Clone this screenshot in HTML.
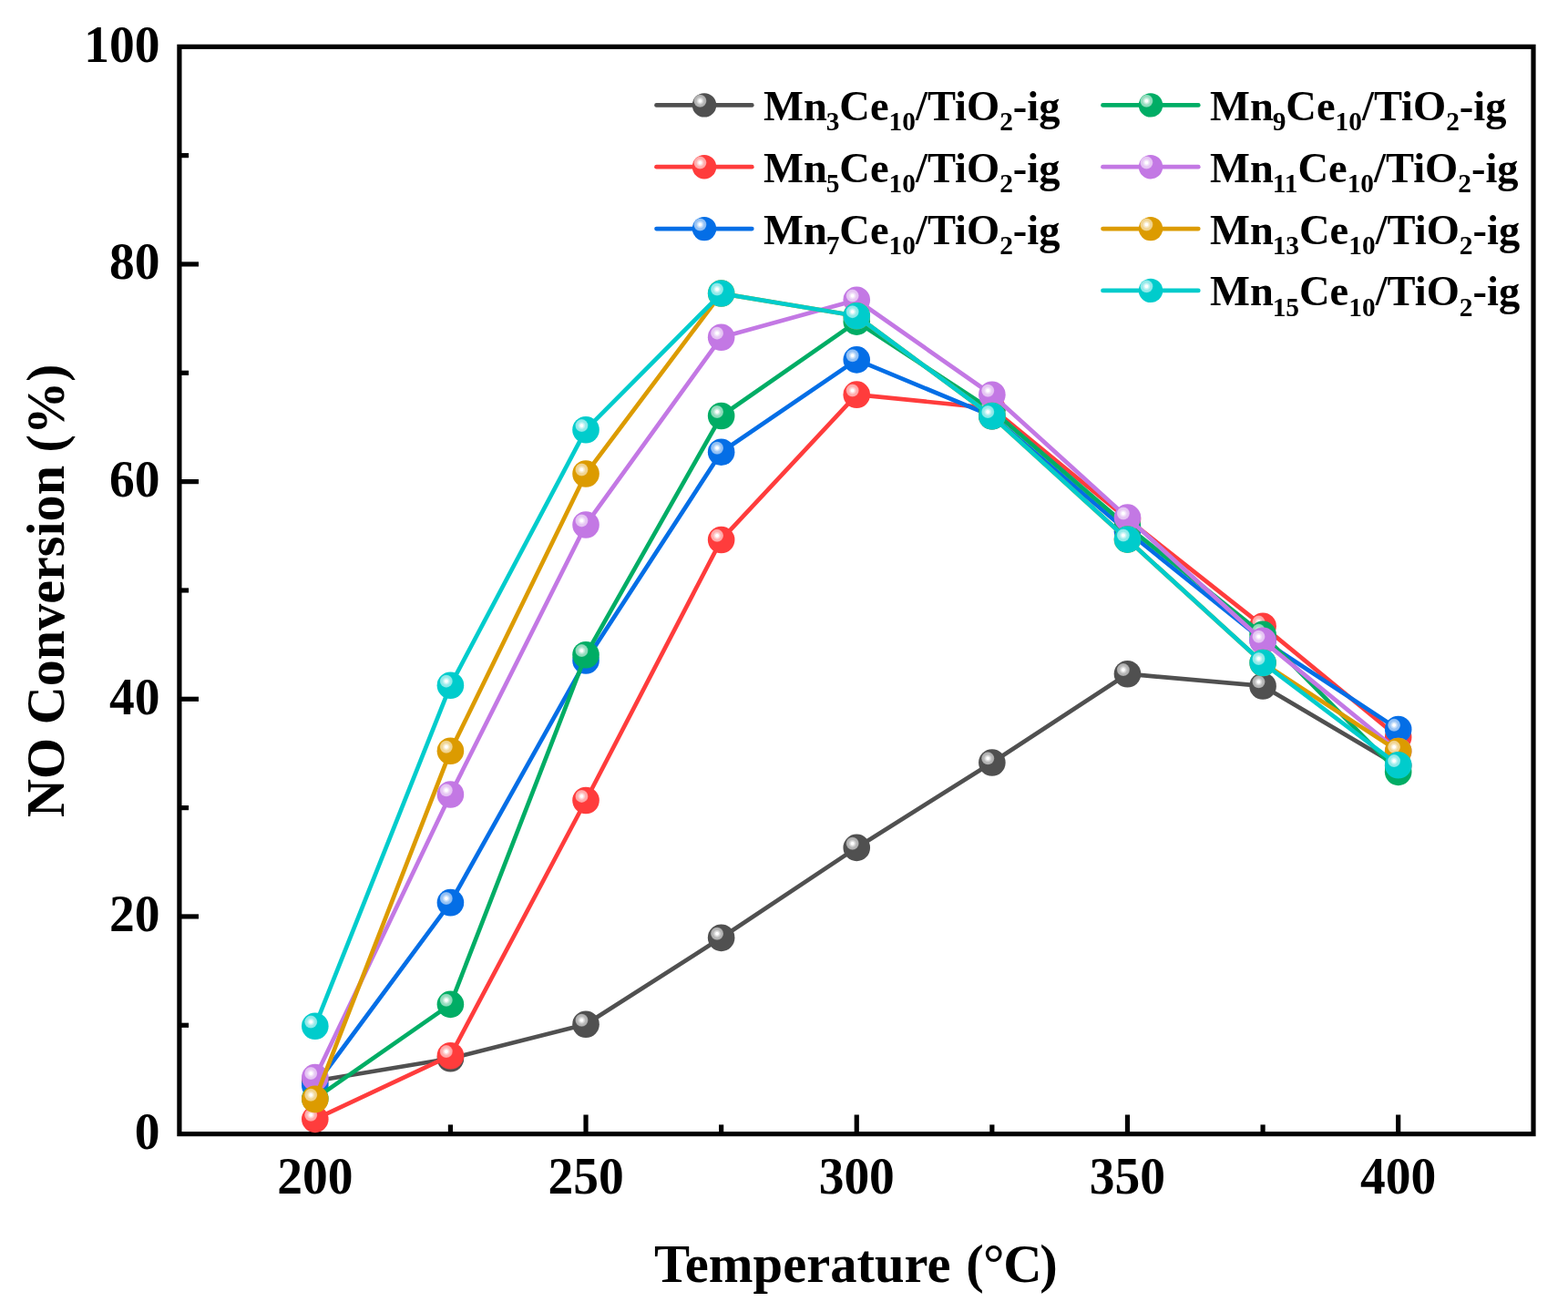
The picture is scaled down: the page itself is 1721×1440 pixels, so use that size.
<!DOCTYPE html>
<html><head><meta charset="utf-8"><title>NO Conversion</title>
<style>
html,body{margin:0;padding:0;background:#fff;}
svg{display:block;}
text{font-family:"Liberation Serif", "Times New Roman", serif;font-weight:bold;fill:#000;}
</style></head>
<body>
<svg width="1721" height="1440" viewBox="0 0 1721 1440">
<defs>
<radialGradient id="hgray" cx="0.5" cy="0.5" r="0.5">
<stop offset="0" stop-color="#ffffff"/>
<stop offset="0.2" stop-color="#ffffff"/>
<stop offset="0.32" stop-color="#e3e3e3"/>
<stop offset="0.52" stop-color="#cacaca"/>
<stop offset="0.60" stop-color="#b9b9b9"/>
<stop offset="0.86" stop-color="#b2b2b2"/>
<stop offset="1" stop-color="#969696"/>
</radialGradient>
<radialGradient id="hred" cx="0.5" cy="0.5" r="0.5">
<stop offset="0" stop-color="#ffffff"/>
<stop offset="0.2" stop-color="#ffffff"/>
<stop offset="0.32" stop-color="#ffe0e0"/>
<stop offset="0.52" stop-color="#ffc4c4"/>
<stop offset="0.60" stop-color="#ffb1b1"/>
<stop offset="0.86" stop-color="#ffa9a9"/>
<stop offset="1" stop-color="#ff8a8a"/>
</radialGradient>
<radialGradient id="hblue" cx="0.5" cy="0.5" r="0.5">
<stop offset="0" stop-color="#ffffff"/>
<stop offset="0.2" stop-color="#ffffff"/>
<stop offset="0.32" stop-color="#d7e8fb"/>
<stop offset="0.52" stop-color="#b4d4f8"/>
<stop offset="0.60" stop-color="#9bc5f5"/>
<stop offset="0.86" stop-color="#91bff4"/>
<stop offset="1" stop-color="#68a8f0"/>
</radialGradient>
<radialGradient id="hgreen" cx="0.5" cy="0.5" r="0.5">
<stop offset="0" stop-color="#ffffff"/>
<stop offset="0.2" stop-color="#ffffff"/>
<stop offset="0.32" stop-color="#d6f2e6"/>
<stop offset="0.52" stop-color="#b2e6d1"/>
<stop offset="0.60" stop-color="#99dec1"/>
<stop offset="0.86" stop-color="#8fdbbb"/>
<stop offset="1" stop-color="#66cea3"/>
</radialGradient>
<radialGradient id="hviolet" cx="0.5" cy="0.5" r="0.5">
<stop offset="0" stop-color="#ffffff"/>
<stop offset="0.2" stop-color="#ffffff"/>
<stop offset="0.32" stop-color="#f5e9fb"/>
<stop offset="0.52" stop-color="#edd6f7"/>
<stop offset="0.60" stop-color="#e7c9f4"/>
<stop offset="0.86" stop-color="#e5c4f3"/>
<stop offset="1" stop-color="#dbaeef"/>
</radialGradient>
<radialGradient id="horange" cx="0.5" cy="0.5" r="0.5">
<stop offset="0" stop-color="#ffffff"/>
<stop offset="0.2" stop-color="#ffffff"/>
<stop offset="0.32" stop-color="#f9efd6"/>
<stop offset="0.52" stop-color="#f4e1b2"/>
<stop offset="0.60" stop-color="#f1d799"/>
<stop offset="0.86" stop-color="#f0d38f"/>
<stop offset="1" stop-color="#eac366"/>
</radialGradient>
<radialGradient id="hcyan" cx="0.5" cy="0.5" r="0.5">
<stop offset="0" stop-color="#ffffff"/>
<stop offset="0.2" stop-color="#ffffff"/>
<stop offset="0.32" stop-color="#d6f7f7"/>
<stop offset="0.52" stop-color="#b2f0f0"/>
<stop offset="0.60" stop-color="#99ebeb"/>
<stop offset="0.86" stop-color="#8fe9e9"/>
<stop offset="1" stop-color="#66e0e0"/>
</radialGradient>
</defs>
<rect width="1721" height="1440" fill="#fff"/>
<g>
<rect x="196.90" y="51.30" width="1486.10" height="1193.30" fill="none" stroke="#000" stroke-width="5.2"/>
<line x1="345.81" y1="1244.60" x2="345.81" y2="1223.50" stroke="#000" stroke-width="5.2"/>
<line x1="494.42" y1="1244.60" x2="494.42" y2="1234.40" stroke="#000" stroke-width="5.2"/>
<line x1="643.03" y1="1244.60" x2="643.03" y2="1223.50" stroke="#000" stroke-width="5.2"/>
<line x1="791.64" y1="1244.60" x2="791.64" y2="1234.40" stroke="#000" stroke-width="5.2"/>
<line x1="940.25" y1="1244.60" x2="940.25" y2="1223.50" stroke="#000" stroke-width="5.2"/>
<line x1="1088.86" y1="1244.60" x2="1088.86" y2="1234.40" stroke="#000" stroke-width="5.2"/>
<line x1="1237.47" y1="1244.60" x2="1237.47" y2="1223.50" stroke="#000" stroke-width="5.2"/>
<line x1="1386.08" y1="1244.60" x2="1386.08" y2="1234.40" stroke="#000" stroke-width="5.2"/>
<line x1="1534.69" y1="1244.60" x2="1534.69" y2="1223.50" stroke="#000" stroke-width="5.2"/>
<line x1="196.90" y1="1125.27" x2="207.10" y2="1125.27" stroke="#000" stroke-width="5.2"/>
<line x1="196.90" y1="1005.94" x2="218.00" y2="1005.94" stroke="#000" stroke-width="5.2"/>
<line x1="196.90" y1="886.61" x2="207.10" y2="886.61" stroke="#000" stroke-width="5.2"/>
<line x1="196.90" y1="767.28" x2="218.00" y2="767.28" stroke="#000" stroke-width="5.2"/>
<line x1="196.90" y1="647.95" x2="207.10" y2="647.95" stroke="#000" stroke-width="5.2"/>
<line x1="196.90" y1="528.62" x2="218.00" y2="528.62" stroke="#000" stroke-width="5.2"/>
<line x1="196.90" y1="409.29" x2="207.10" y2="409.29" stroke="#000" stroke-width="5.2"/>
<line x1="196.90" y1="289.96" x2="218.00" y2="289.96" stroke="#000" stroke-width="5.2"/>
<line x1="196.90" y1="170.63" x2="207.10" y2="170.63" stroke="#000" stroke-width="5.2"/>
</g>
<g>
<polyline points="345.81,1186.49 494.42,1161.78 643.03,1124.32 791.64,1029.33 940.25,930.40 1088.86,836.97 1237.47,739.71 1386.08,752.96 1534.69,840.67" fill="none" stroke="#505050" stroke-width="4.7" stroke-linejoin="round" stroke-linecap="butt"/>
<circle cx="345.81" cy="1186.49" r="14.80" fill="#505050"/><circle cx="341.21" cy="1181.89" r="7.00" fill="url(#hgray)"/>
<circle cx="494.42" cy="1161.78" r="14.80" fill="#505050"/><circle cx="489.82" cy="1157.18" r="7.00" fill="url(#hgray)"/>
<circle cx="643.03" cy="1124.32" r="14.80" fill="#505050"/><circle cx="638.43" cy="1119.72" r="7.00" fill="url(#hgray)"/>
<circle cx="791.64" cy="1029.33" r="14.80" fill="#505050"/><circle cx="787.04" cy="1024.73" r="7.00" fill="url(#hgray)"/>
<circle cx="940.25" cy="930.40" r="14.80" fill="#505050"/><circle cx="935.65" cy="925.80" r="7.00" fill="url(#hgray)"/>
<circle cx="1088.86" cy="836.97" r="14.80" fill="#505050"/><circle cx="1084.26" cy="832.37" r="7.00" fill="url(#hgray)"/>
<circle cx="1237.47" cy="739.71" r="14.80" fill="#505050"/><circle cx="1232.87" cy="735.11" r="7.00" fill="url(#hgray)"/>
<circle cx="1386.08" cy="752.96" r="14.80" fill="#505050"/><circle cx="1381.48" cy="748.36" r="7.00" fill="url(#hgray)"/>
<circle cx="1534.69" cy="840.67" r="14.80" fill="#505050"/><circle cx="1530.09" cy="836.07" r="7.00" fill="url(#hgray)"/>
<polyline points="345.81,1228.37 494.42,1158.68 643.03,878.50 791.64,592.46 940.25,433.16 1088.86,448.07 1237.47,569.79 1386.08,687.21 1534.69,809.05" fill="none" stroke="#ff3c3c" stroke-width="4.7" stroke-linejoin="round" stroke-linecap="butt"/>
<circle cx="345.81" cy="1228.37" r="14.80" fill="#ff3c3c"/><circle cx="341.21" cy="1223.77" r="7.00" fill="url(#hred)"/>
<circle cx="494.42" cy="1158.68" r="14.80" fill="#ff3c3c"/><circle cx="489.82" cy="1154.08" r="7.00" fill="url(#hred)"/>
<circle cx="643.03" cy="878.50" r="14.80" fill="#ff3c3c"/><circle cx="638.43" cy="873.90" r="7.00" fill="url(#hred)"/>
<circle cx="791.64" cy="592.46" r="14.80" fill="#ff3c3c"/><circle cx="787.04" cy="587.86" r="7.00" fill="url(#hred)"/>
<circle cx="940.25" cy="433.16" r="14.80" fill="#ff3c3c"/><circle cx="935.65" cy="428.56" r="7.00" fill="url(#hred)"/>
<circle cx="1088.86" cy="448.07" r="14.80" fill="#ff3c3c"/><circle cx="1084.26" cy="443.47" r="7.00" fill="url(#hred)"/>
<circle cx="1237.47" cy="569.79" r="14.80" fill="#ff3c3c"/><circle cx="1232.87" cy="565.19" r="7.00" fill="url(#hred)"/>
<circle cx="1386.08" cy="687.21" r="14.80" fill="#ff3c3c"/><circle cx="1381.48" cy="682.61" r="7.00" fill="url(#hred)"/>
<circle cx="1534.69" cy="809.05" r="14.80" fill="#ff3c3c"/><circle cx="1530.09" cy="804.45" r="7.00" fill="url(#hred)"/>
<polyline points="345.81,1191.50 494.42,990.67 643.03,725.04 791.64,496.28 940.25,394.85 1088.86,456.66 1237.47,583.27 1386.08,702.72 1534.69,800.45" fill="none" stroke="#046ee6" stroke-width="4.7" stroke-linejoin="round" stroke-linecap="butt"/>
<circle cx="345.81" cy="1191.50" r="14.80" fill="#046ee6"/><circle cx="341.21" cy="1186.90" r="7.00" fill="url(#hblue)"/>
<circle cx="494.42" cy="990.67" r="14.80" fill="#046ee6"/><circle cx="489.82" cy="986.07" r="7.00" fill="url(#hblue)"/>
<circle cx="643.03" cy="725.04" r="14.80" fill="#046ee6"/><circle cx="638.43" cy="720.44" r="7.00" fill="url(#hblue)"/>
<circle cx="791.64" cy="496.28" r="14.80" fill="#046ee6"/><circle cx="787.04" cy="491.68" r="7.00" fill="url(#hblue)"/>
<circle cx="940.25" cy="394.85" r="14.80" fill="#046ee6"/><circle cx="935.65" cy="390.25" r="7.00" fill="url(#hblue)"/>
<circle cx="1088.86" cy="456.66" r="14.80" fill="#046ee6"/><circle cx="1084.26" cy="452.06" r="7.00" fill="url(#hblue)"/>
<circle cx="1237.47" cy="583.27" r="14.80" fill="#046ee6"/><circle cx="1232.87" cy="578.67" r="7.00" fill="url(#hblue)"/>
<circle cx="1386.08" cy="702.72" r="14.80" fill="#046ee6"/><circle cx="1381.48" cy="698.12" r="7.00" fill="url(#hblue)"/>
<circle cx="1534.69" cy="800.45" r="14.80" fill="#046ee6"/><circle cx="1530.09" cy="795.85" r="7.00" fill="url(#hblue)"/>
<polyline points="345.81,1205.82 494.42,1102.36 643.03,718.71 791.64,456.54 940.25,353.09 1088.86,450.34 1237.47,577.78 1386.08,696.40 1534.69,847.35" fill="none" stroke="#00ad65" stroke-width="4.7" stroke-linejoin="round" stroke-linecap="butt"/>
<circle cx="345.81" cy="1205.82" r="14.80" fill="#00ad65"/><circle cx="341.21" cy="1201.22" r="7.00" fill="url(#hgreen)"/>
<circle cx="494.42" cy="1102.36" r="14.80" fill="#00ad65"/><circle cx="489.82" cy="1097.76" r="7.00" fill="url(#hgreen)"/>
<circle cx="643.03" cy="718.71" r="14.80" fill="#00ad65"/><circle cx="638.43" cy="714.11" r="7.00" fill="url(#hgreen)"/>
<circle cx="791.64" cy="456.54" r="14.80" fill="#00ad65"/><circle cx="787.04" cy="451.94" r="7.00" fill="url(#hgreen)"/>
<circle cx="940.25" cy="353.09" r="14.80" fill="#00ad65"/><circle cx="935.65" cy="348.49" r="7.00" fill="url(#hgreen)"/>
<circle cx="1088.86" cy="450.34" r="14.80" fill="#00ad65"/><circle cx="1084.26" cy="445.74" r="7.00" fill="url(#hgreen)"/>
<circle cx="1237.47" cy="577.78" r="14.80" fill="#00ad65"/><circle cx="1232.87" cy="573.18" r="7.00" fill="url(#hgreen)"/>
<circle cx="1386.08" cy="696.40" r="14.80" fill="#00ad65"/><circle cx="1381.48" cy="691.80" r="7.00" fill="url(#hgreen)"/>
<circle cx="1534.69" cy="847.35" r="14.80" fill="#00ad65"/><circle cx="1530.09" cy="842.75" r="7.00" fill="url(#hgreen)"/>
<polyline points="345.81,1182.67 494.42,871.93 643.03,575.99 791.64,370.27 940.25,329.22 1088.86,433.28 1237.47,568.12 1386.08,703.32 1534.69,824.44" fill="none" stroke="#c378e4" stroke-width="4.7" stroke-linejoin="round" stroke-linecap="butt"/>
<circle cx="345.81" cy="1182.67" r="14.80" fill="#c378e4"/><circle cx="341.21" cy="1178.07" r="7.00" fill="url(#hviolet)"/>
<circle cx="494.42" cy="871.93" r="14.80" fill="#c378e4"/><circle cx="489.82" cy="867.33" r="7.00" fill="url(#hviolet)"/>
<circle cx="643.03" cy="575.99" r="14.80" fill="#c378e4"/><circle cx="638.43" cy="571.39" r="7.00" fill="url(#hviolet)"/>
<circle cx="791.64" cy="370.27" r="14.80" fill="#c378e4"/><circle cx="787.04" cy="365.67" r="7.00" fill="url(#hviolet)"/>
<circle cx="940.25" cy="329.22" r="14.80" fill="#c378e4"/><circle cx="935.65" cy="324.62" r="7.00" fill="url(#hviolet)"/>
<circle cx="1088.86" cy="433.28" r="14.80" fill="#c378e4"/><circle cx="1084.26" cy="428.68" r="7.00" fill="url(#hviolet)"/>
<circle cx="1237.47" cy="568.12" r="14.80" fill="#c378e4"/><circle cx="1232.87" cy="563.52" r="7.00" fill="url(#hviolet)"/>
<circle cx="1386.08" cy="703.32" r="14.80" fill="#c378e4"/><circle cx="1381.48" cy="698.72" r="7.00" fill="url(#hviolet)"/>
<circle cx="1534.69" cy="824.44" r="14.80" fill="#c378e4"/><circle cx="1530.09" cy="819.84" r="7.00" fill="url(#hviolet)"/>
<polyline points="345.81,1206.41 494.42,824.32 643.03,520.03 791.64,322.06 940.25,346.76 1088.86,456.66 1237.47,592.10 1386.08,727.54 1534.69,824.44" fill="none" stroke="#dc9b00" stroke-width="4.7" stroke-linejoin="round" stroke-linecap="butt"/>
<circle cx="345.81" cy="1206.41" r="14.80" fill="#dc9b00"/><circle cx="341.21" cy="1201.81" r="7.00" fill="url(#horange)"/>
<circle cx="494.42" cy="824.32" r="14.80" fill="#dc9b00"/><circle cx="489.82" cy="819.72" r="7.00" fill="url(#horange)"/>
<circle cx="643.03" cy="520.03" r="14.80" fill="#dc9b00"/><circle cx="638.43" cy="515.43" r="7.00" fill="url(#horange)"/>
<circle cx="791.64" cy="322.06" r="14.80" fill="#dc9b00"/><circle cx="787.04" cy="317.46" r="7.00" fill="url(#horange)"/>
<circle cx="940.25" cy="346.76" r="14.80" fill="#dc9b00"/><circle cx="935.65" cy="342.16" r="7.00" fill="url(#horange)"/>
<circle cx="1088.86" cy="456.66" r="14.80" fill="#dc9b00"/><circle cx="1084.26" cy="452.06" r="7.00" fill="url(#horange)"/>
<circle cx="1237.47" cy="592.10" r="14.80" fill="#dc9b00"/><circle cx="1232.87" cy="587.50" r="7.00" fill="url(#horange)"/>
<circle cx="1386.08" cy="727.54" r="14.80" fill="#dc9b00"/><circle cx="1381.48" cy="722.94" r="7.00" fill="url(#horange)"/>
<circle cx="1534.69" cy="824.44" r="14.80" fill="#dc9b00"/><circle cx="1530.09" cy="819.84" r="7.00" fill="url(#horange)"/>
<polyline points="345.81,1126.22 494.42,752.24 643.03,471.70 791.64,322.06 940.25,346.76 1088.86,456.66 1237.47,592.10 1386.08,727.54 1534.69,839.71" fill="none" stroke="#00cccc" stroke-width="4.7" stroke-linejoin="round" stroke-linecap="butt"/>
<circle cx="345.81" cy="1126.22" r="14.80" fill="#00cccc"/><circle cx="341.21" cy="1121.62" r="7.00" fill="url(#hcyan)"/>
<circle cx="494.42" cy="752.24" r="14.80" fill="#00cccc"/><circle cx="489.82" cy="747.64" r="7.00" fill="url(#hcyan)"/>
<circle cx="643.03" cy="471.70" r="14.80" fill="#00cccc"/><circle cx="638.43" cy="467.10" r="7.00" fill="url(#hcyan)"/>
<circle cx="791.64" cy="322.06" r="14.80" fill="#00cccc"/><circle cx="787.04" cy="317.46" r="7.00" fill="url(#hcyan)"/>
<circle cx="940.25" cy="346.76" r="14.80" fill="#00cccc"/><circle cx="935.65" cy="342.16" r="7.00" fill="url(#hcyan)"/>
<circle cx="1088.86" cy="456.66" r="14.80" fill="#00cccc"/><circle cx="1084.26" cy="452.06" r="7.00" fill="url(#hcyan)"/>
<circle cx="1237.47" cy="592.10" r="14.80" fill="#00cccc"/><circle cx="1232.87" cy="587.50" r="7.00" fill="url(#hcyan)"/>
<circle cx="1386.08" cy="727.54" r="14.80" fill="#00cccc"/><circle cx="1381.48" cy="722.94" r="7.00" fill="url(#hcyan)"/>
<circle cx="1534.69" cy="839.71" r="14.80" fill="#00cccc"/><circle cx="1530.09" cy="835.11" r="7.00" fill="url(#hcyan)"/>
</g>
<g>
<text transform="translate(175.4,1261.10) scale(1,1.045)" text-anchor="end" font-size="55.5">0</text>
<text transform="translate(175.4,1022.44) scale(1,1.045)" text-anchor="end" font-size="55.5">20</text>
<text transform="translate(175.4,783.78) scale(1,1.045)" text-anchor="end" font-size="55.5">40</text>
<text transform="translate(175.4,545.12) scale(1,1.045)" text-anchor="end" font-size="55.5">60</text>
<text transform="translate(175.4,306.46) scale(1,1.045)" text-anchor="end" font-size="55.5">80</text>
<text transform="translate(175.4,67.80) scale(1,1.045)" text-anchor="end" font-size="55.5">100</text>
<text transform="translate(345.81,1309.7) scale(1,1.045)" text-anchor="middle" font-size="55.5">200</text>
<text transform="translate(643.03,1309.7) scale(1,1.045)" text-anchor="middle" font-size="55.5">250</text>
<text transform="translate(940.25,1309.7) scale(1,1.045)" text-anchor="middle" font-size="55.5">300</text>
<text transform="translate(1237.47,1309.7) scale(1,1.045)" text-anchor="middle" font-size="55.5">350</text>
<text transform="translate(1534.69,1309.7) scale(1,1.045)" text-anchor="middle" font-size="55.5">400</text>
<text transform="translate(718.1,1406.9) scale(1,1.015)" font-size="58.6">Temperature <tspan dx="2">(</tspan><tspan dx="-0.8">°</tspan><tspan dx="-1.2">C</tspan><tspan dx="-2.3">)</tspan></text>
<text transform="translate(70,648.3) rotate(-90) scale(1,1.015)" x="0" y="0" text-anchor="middle" font-size="58.15">NO Conversion (%)</text>
</g>
<g>
<line x1="720.5" y1="115.4" x2="825.3" y2="115.4" stroke="#505050" stroke-width="4.7" stroke-linecap="round"/>
<circle cx="773.00" cy="115.40" r="13.20" fill="#505050"/><circle cx="768.40" cy="110.80" r="7.00" fill="url(#hgray)"/>
<text x="838.1" y="131.8" font-size="46.5">Mn<tspan font-size="29.4" dx="-1.2" dy="11.2">3</tspan><tspan dy="-11.2">Ce</tspan><tspan font-size="29.4" dy="11.2">10</tspan><tspan dy="-11.2">/TiO</tspan><tspan font-size="29.4" dy="11.2">2</tspan><tspan dy="-11.2">-ig</tspan></text>
<line x1="720.5" y1="183.2" x2="825.3" y2="183.2" stroke="#ff3c3c" stroke-width="4.7" stroke-linecap="round"/>
<circle cx="773.00" cy="183.20" r="13.20" fill="#ff3c3c"/><circle cx="768.40" cy="178.60" r="7.00" fill="url(#hred)"/>
<text x="838.1" y="199.6" font-size="46.5">Mn<tspan font-size="29.4" dx="-1.2" dy="11.2">5</tspan><tspan dy="-11.2">Ce</tspan><tspan font-size="29.4" dy="11.2">10</tspan><tspan dy="-11.2">/TiO</tspan><tspan font-size="29.4" dy="11.2">2</tspan><tspan dy="-11.2">-ig</tspan></text>
<line x1="720.5" y1="251.1" x2="825.3" y2="251.1" stroke="#046ee6" stroke-width="4.7" stroke-linecap="round"/>
<circle cx="773.00" cy="251.10" r="13.20" fill="#046ee6"/><circle cx="768.40" cy="246.50" r="7.00" fill="url(#hblue)"/>
<text x="838.1" y="267.5" font-size="46.5">Mn<tspan font-size="29.4" dx="-1.2" dy="11.2">7</tspan><tspan dy="-11.2">Ce</tspan><tspan font-size="29.4" dy="11.2">10</tspan><tspan dy="-11.2">/TiO</tspan><tspan font-size="29.4" dy="11.2">2</tspan><tspan dy="-11.2">-ig</tspan></text>
<line x1="1210.5" y1="115.4" x2="1315.3" y2="115.4" stroke="#00ad65" stroke-width="4.7" stroke-linecap="round"/>
<circle cx="1263.00" cy="115.40" r="13.20" fill="#00ad65"/><circle cx="1258.40" cy="110.80" r="7.00" fill="url(#hgreen)"/>
<text x="1328.1" y="131.8" font-size="46.5">Mn<tspan font-size="29.4" dx="-1.2" dy="11.2">9</tspan><tspan dy="-11.2">Ce</tspan><tspan font-size="29.4" dy="11.2">10</tspan><tspan dy="-11.2">/TiO</tspan><tspan font-size="29.4" dy="11.2">2</tspan><tspan dy="-11.2">-ig</tspan></text>
<line x1="1210.5" y1="183.2" x2="1315.3" y2="183.2" stroke="#c378e4" stroke-width="4.7" stroke-linecap="round"/>
<circle cx="1263.00" cy="183.20" r="13.20" fill="#c378e4"/><circle cx="1258.40" cy="178.60" r="7.00" fill="url(#hviolet)"/>
<text x="1328.1" y="199.6" font-size="46.5">Mn<tspan font-size="29.4" dx="-1.2" dy="11.2">11</tspan><tspan dy="-11.2">Ce</tspan><tspan font-size="29.4" dy="11.2">10</tspan><tspan dy="-11.2">/TiO</tspan><tspan font-size="29.4" dy="11.2">2</tspan><tspan dy="-11.2">-ig</tspan></text>
<line x1="1210.5" y1="251.1" x2="1315.3" y2="251.1" stroke="#dc9b00" stroke-width="4.7" stroke-linecap="round"/>
<circle cx="1263.00" cy="251.10" r="13.20" fill="#dc9b00"/><circle cx="1258.40" cy="246.50" r="7.00" fill="url(#horange)"/>
<text x="1328.1" y="267.5" font-size="46.5">Mn<tspan font-size="29.4" dx="-1.2" dy="11.2">13</tspan><tspan dy="-11.2">Ce</tspan><tspan font-size="29.4" dy="11.2">10</tspan><tspan dy="-11.2">/TiO</tspan><tspan font-size="29.4" dy="11.2">2</tspan><tspan dy="-11.2">-ig</tspan></text>
<line x1="1210.5" y1="318.9" x2="1315.3" y2="318.9" stroke="#00cccc" stroke-width="4.7" stroke-linecap="round"/>
<circle cx="1263.00" cy="318.90" r="13.20" fill="#00cccc"/><circle cx="1258.40" cy="314.30" r="7.00" fill="url(#hcyan)"/>
<text x="1328.1" y="335.3" font-size="46.5">Mn<tspan font-size="29.4" dx="-1.2" dy="11.2">15</tspan><tspan dy="-11.2">Ce</tspan><tspan font-size="29.4" dy="11.2">10</tspan><tspan dy="-11.2">/TiO</tspan><tspan font-size="29.4" dy="11.2">2</tspan><tspan dy="-11.2">-ig</tspan></text>
</g>
</svg>
</body></html>
